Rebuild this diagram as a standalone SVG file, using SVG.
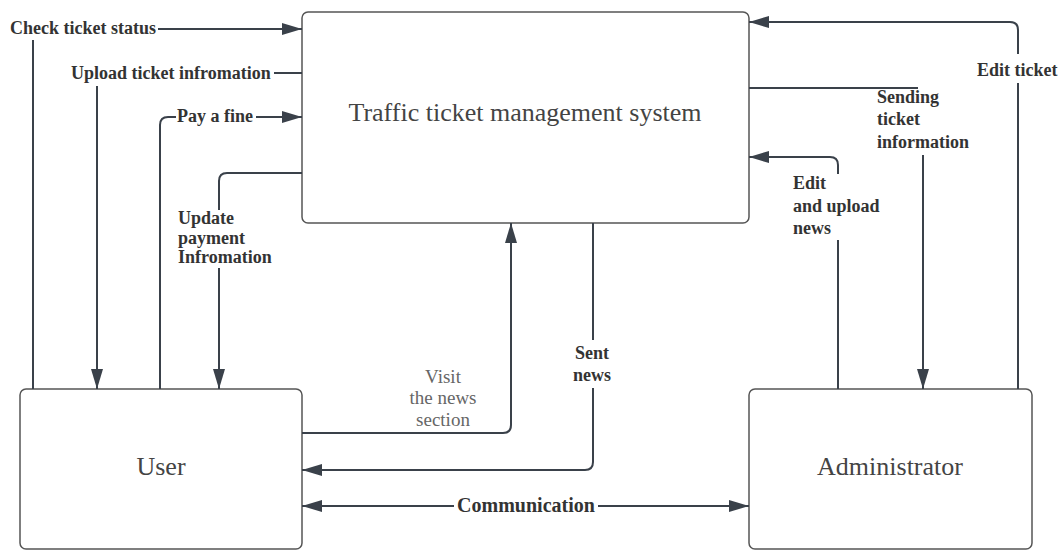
<svg xmlns="http://www.w3.org/2000/svg" width="1064" height="550" viewBox="0 0 1064 550">
<style>
.box{fill:#fff;stroke:#555;stroke-width:1.5}
.c{fill:none;stroke:#3a414a;stroke-width:2}
.lbl{font-family:"Liberation Serif","Times New Roman",serif;font-weight:bold;font-size:18px;fill:#333}
.reg{font-family:"Liberation Serif","Times New Roman",serif;font-size:19px;fill:#666}
.title{font-family:"Liberation Serif","Times New Roman",serif;font-size:26px;fill:#444}
</style>
<defs>
<marker id="ah" viewBox="0 0 20 12" refX="20" refY="6" markerWidth="20" markerHeight="12" markerUnits="userSpaceOnUse" orient="auto-start-reverse">
<path d="M0,0 L20,6 L0,12 z" fill="#3a414a"/>
</marker>
</defs>
<rect width="1064" height="550" fill="#fff"/>
<g id="system">
<rect class="box" x="302" y="12" width="447" height="211" rx="6"/>
<text class="title" x="525" y="121" text-anchor="middle">Traffic ticket management system</text>
</g>
<g id="user">
<rect class="box" x="20" y="389" width="282" height="160" rx="6"/>
<text class="title" x="161" y="475" text-anchor="middle">User</text>
</g>
<g id="administrator">
<rect class="box" x="749" y="389" width="283" height="160" rx="6"/>
<text class="title" x="890" y="475" text-anchor="middle">Administrator</text>
</g>
<g id="connectors">
<path class="c" d="M33,389 V40"/>
<path class="c" d="M158,29 H302" marker-end="url(#ah)"/>
<text class="lbl" x="10" y="34">Check ticket status</text>

<path class="c" d="M302,73 H274"/>
<path class="c" d="M97,86 V389" marker-end="url(#ah)"/>
<text class="lbl" x="71" y="79">Upload ticket infromation</text>

<path class="c" d="M160,389 V125 Q160,117 168,117 H176"/>
<path class="c" d="M256,117 H302" marker-end="url(#ah)"/>
<text class="lbl" x="177" y="122">Pay a fine</text>

<path class="c" d="M302,173 H227 Q219,173 219,181 V210"/>
<path class="c" d="M219,268 V389" marker-end="url(#ah)"/>
<text class="lbl" x="178" y="224">Update</text>
<text class="lbl" x="178" y="244">payment</text>
<text class="lbl" x="178" y="263">Infromation</text>

<path class="c" d="M302,433 H503 Q511,433 511,425 V223" marker-end="url(#ah)"/>
<text class="reg" x="443" y="383" text-anchor="middle">Visit</text>
<text class="reg" x="443" y="404" text-anchor="middle">the news</text>
<text class="reg" x="443" y="426" text-anchor="middle">section</text>

<path class="c" d="M593,223 V340"/>
<path class="c" d="M593,388 V462 Q593,470 585,470 H302" marker-end="url(#ah)"/>
<text class="lbl" x="592" y="359" text-anchor="middle">Sent</text>
<text class="lbl" x="592" y="381" text-anchor="middle">news</text>

<path class="c" d="M454,506 H302" marker-end="url(#ah)"/>
<path class="c" d="M598,506 H749" marker-end="url(#ah)"/>
<text class="lbl" x="526" y="512" text-anchor="middle" style="font-size:20px">Communication</text>

<path class="c" d="M1018,389 V83"/>
<path class="c" d="M1018,54 V30 Q1018,22 1010,22 H749" marker-end="url(#ah)"/>
<text class="lbl" x="977" y="76">Edit ticket</text>

<path class="c" d="M749,88 H918"/>
<path class="c" d="M923,155 V389" marker-end="url(#ah)"/>
<text class="lbl" x="877" y="103">Sending</text>
<text class="lbl" x="877" y="125">ticket</text>
<text class="lbl" x="877" y="148">information</text>

<path class="c" d="M838,389 V240"/>
<path class="c" d="M838,174 V165 Q838,157 830,157 H749" marker-end="url(#ah)"/>
<text class="lbl" x="793" y="189">Edit</text>
<text class="lbl" x="793" y="212">and upload</text>
<text class="lbl" x="793" y="234">news</text>
</g>
</svg>
